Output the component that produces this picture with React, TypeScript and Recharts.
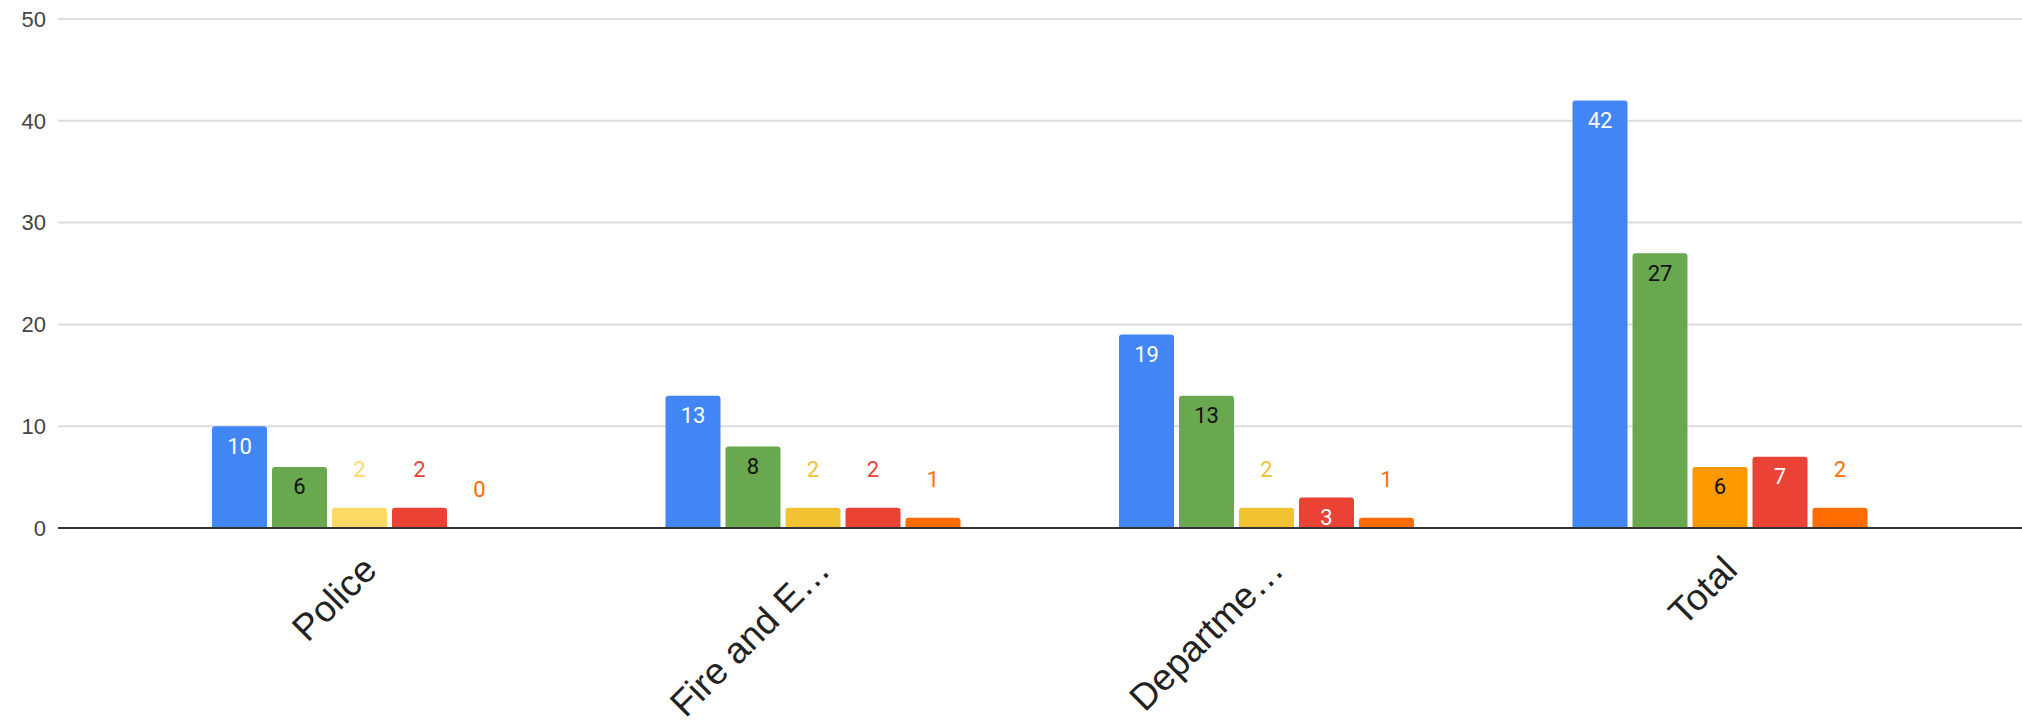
import React from "react";
import {
  BarChart,
  Bar,
  XAxis,
  YAxis,
  CartesianGrid,
  Cell,
  LabelList,
} from "recharts";

// Categories as shown (truncated by the original chart)
const categories = ["Police", "Fire and E…", "Departme…", "Total"];

// Five series per category
const seriesA = [10, 13, 19, 42];
const seriesB = [6, 8, 13, 27];
const seriesC = [2, 2, 2, 6];
const seriesD = [2, 2, 3, 7];
const seriesE = [0, 1, 1, 2];

const yTicks = [0, 10, 20, 30, 40, 50];

// Colours
const blue = "#4285F4";
const green = "#6AA84F";
const seriesCColors = ["#FFD966", "#F1C232", "#F1C232", "#FF9900"];
const red = "#EA4335";
const orange = "#FF6D01";

const data = categories.map((name, i) => ({
  name,
  a: seriesA[i],
  b: seriesB[i],
  c: seriesC[i],
  d: seriesD[i],
  e: seriesE[i],
}));

// Value labels: inside the bar top when it fits, otherwise above it
const makeLabel =
  (insideColor: string, outsideColors: string[]) => (props: any) => {
    const { x, y, width, height, value, index } = props;
    const inside = height >= 25;
    const cx = Number(x) + Number(width) / 2;
    const cy = inside ? Number(y) + 20 : Number(y) - 38;
    return (
      <text
        x={cx}
        y={cy}
        textAnchor="middle"
        dominantBaseline="central"
        fill={inside ? insideColor : outsideColors[index] ?? outsideColors[0]}
        fontSize={22}
        fontFamily="Roboto, Arial, sans-serif"
      >
        {value}
      </text>
    );
  };

const renderCategoryTick = ({ x, y, payload }: any) => (
  <g transform={`translate(${x + 19},${y + 36})`}>
    <text
      x={0}
      y={0}
      textAnchor="end"
      transform="rotate(-45)"
      fontSize={37}
      fill="#222"
      fontFamily="'Liberation Sans', Arial, sans-serif"
    >
      {payload.value}
    </text>
  </g>
);

export default function App() {
  return (
    <div style={{ position: "absolute", left: 0, top: 0, background: "#fff" }}>
      <BarChart
        width={2022}
        height={728}
        data={data}
        margin={{ top: 19, right: 0, left: 0, bottom: 0 }}
        barSize={55}
        barGap={5}
      >
        <CartesianGrid vertical={false} stroke="#dcdcdc" strokeWidth={2} />
        <XAxis
          dataKey="name"
          height={200}
          padding={{ left: 75, right: 75 }}
          tickLine={false}
          axisLine={{ stroke: "#333", strokeWidth: 2 }}
          tick={renderCategoryTick}
          interval={0}
        />
        <YAxis
          width={58}
          domain={[0, 50]}
          ticks={yTicks}
          axisLine={false}
          tickLine={false}
          tickMargin={6}
          tick={{
            fontSize: 22,
            fill: "#444",
            fontFamily: "'Liberation Sans', Arial, sans-serif",
          }}
        />
        <Bar dataKey="a" fill={blue} radius={[3, 3, 0, 0]} isAnimationActive={false}>
          <LabelList dataKey="a" content={makeLabel("#fff", [blue])} />
        </Bar>
        <Bar dataKey="b" fill={green} radius={[3, 3, 0, 0]} isAnimationActive={false}>
          <LabelList dataKey="b" content={makeLabel("#111", [green])} />
        </Bar>
        <Bar dataKey="c" radius={[3, 3, 0, 0]} isAnimationActive={false}>
          {seriesC.map((_, i) => (
            <Cell key={i} fill={seriesCColors[i]} />
          ))}
          <LabelList dataKey="c" content={makeLabel("#111", seriesCColors)} />
        </Bar>
        <Bar dataKey="d" fill={red} radius={[3, 3, 0, 0]} isAnimationActive={false}>
          <LabelList dataKey="d" content={makeLabel("#fff", [red])} />
        </Bar>
        {/* tiny minPointSize so the zero bar still gets its "0" label */}
        <Bar
          dataKey="e"
          fill={orange}
          radius={[3, 3, 0, 0]}
          minPointSize={0.01}
          isAnimationActive={false}
        >
          <LabelList dataKey="e" content={makeLabel("#111", [orange])} />
        </Bar>
      </BarChart>
    </div>
  );
}
